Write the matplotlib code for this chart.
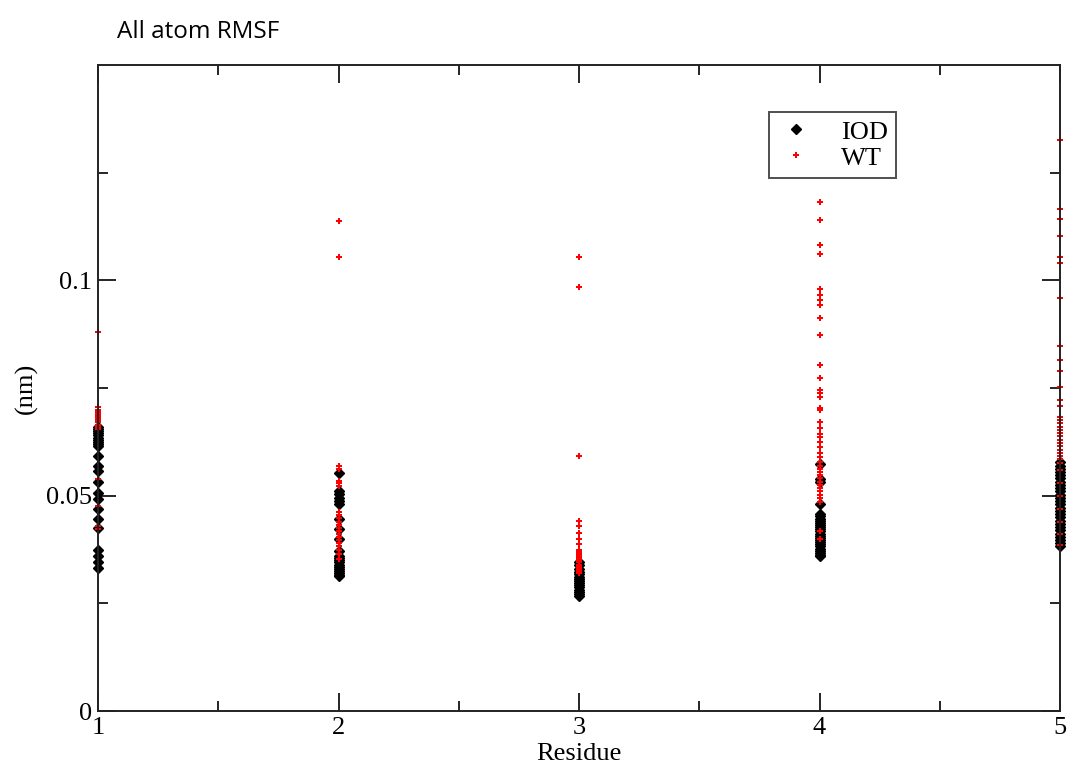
import matplotlib.pyplot as plt

# RMSF values per residue
residues = [1, 2, 3, 4, 5]

iod_1 = [0.0660, 0.0655, 0.0650, 0.0645, 0.0640, 0.0635, 0.0630, 0.0625, 0.0620, 0.0615,
         0.0593, 0.0570, 0.0558, 0.0531, 0.0507, 0.0492, 0.0469, 0.0445, 0.0426,
         0.0375, 0.0359, 0.0345, 0.0333]
wt_1 = [0.0881, 0.0706, 0.0700, 0.0695, 0.0690, 0.0685, 0.0680, 0.0675, 0.0670, 0.0665,
        0.0660, 0.0655, 0.0538, 0.0476, 0.0430, 0.0422]

iod_2 = [0.0552, 0.0511, 0.0505, 0.0495, 0.0488, 0.0480, 0.0445, 0.0422, 0.0399, 0.0371,
         0.0360, 0.0355, 0.0350, 0.0345, 0.0340, 0.0335, 0.0330, 0.0325, 0.0320, 0.0316, 0.0313]
wt_2 = [0.1138, 0.1054, 0.0570, 0.0562, 0.0535, 0.0529, 0.0523, 0.0461, 0.0455, 0.0448,
        0.0440, 0.0432, 0.0425, 0.0418, 0.0410, 0.0403, 0.0396, 0.0390, 0.0382, 0.0375,
        0.0365, 0.0352]

iod_3 = [0.0345, 0.0338, 0.0330, 0.0322, 0.0317, 0.0312, 0.0307, 0.0302, 0.0297, 0.0292,
         0.0287, 0.0282, 0.0277, 0.0272, 0.0267]
wt_3 = [0.1054, 0.0984, 0.0591, 0.0441, 0.0430, 0.0414, 0.0399, 0.0387, 0.0375, 0.0370,
        0.0365, 0.0360, 0.0355, 0.0350, 0.0345, 0.0340, 0.0335, 0.0330, 0.0326, 0.0321]

iod_4 = [0.0573, 0.0538, 0.0531, 0.0480, 0.0457, 0.0452, 0.0447, 0.0442, 0.0437, 0.0432,
         0.0427, 0.0422, 0.0417, 0.0412, 0.0407, 0.0402, 0.0397, 0.0392, 0.0387, 0.0382,
         0.0377, 0.0372, 0.0367, 0.0363, 0.0360]
wt_4 = [0.1182, 0.1139, 0.1082, 0.1061, 0.0979, 0.0967, 0.0954, 0.0942, 0.0913, 0.0872,
        0.0803, 0.0774, 0.0746, 0.0739, 0.0729, 0.0704, 0.0698, 0.0672, 0.0657, 0.0643,
        0.0636, 0.0624, 0.0612, 0.0600, 0.0589, 0.0578, 0.0570, 0.0562, 0.0555, 0.0548,
        0.0540, 0.0532, 0.0525, 0.0518, 0.0510, 0.0502, 0.0495, 0.0485, 0.0418, 0.0400]

iod_5 = [0.0578, 0.0570, 0.0562, 0.0555, 0.0548, 0.0540, 0.0532, 0.0525, 0.0518, 0.0510,
         0.0502, 0.0495, 0.0488, 0.0480, 0.0472, 0.0465, 0.0458, 0.0450, 0.0442, 0.0435,
         0.0428, 0.0420, 0.0412, 0.0405, 0.0398, 0.0390, 0.0383]
wt_5 = [0.1325, 0.1166, 0.1142, 0.1103, 0.1055, 0.1040, 0.0959, 0.0847, 0.0816, 0.0789,
        0.0752, 0.0721, 0.0709, 0.0682, 0.0675, 0.0668, 0.0660, 0.0652, 0.0645, 0.0638,
        0.0630, 0.0622, 0.0615, 0.0607, 0.0600, 0.0592, 0.0585, 0.0577, 0.0560, 0.0530,
        0.0500, 0.0470, 0.0440, 0.0410, 0.0385]

iod = [iod_1, iod_2, iod_3, iod_4, iod_5]
wt = [wt_1, wt_2, wt_3, wt_4, wt_5]

serif = 'Liberation Serif'

fig = plt.figure(figsize=(10.68, 7.72), dpi=100)
ax = fig.add_axes([0.0918, 0.079, 0.9007, 0.8368])

for i, r in enumerate(residues):
    ax.plot([r] * len(iod[i]), iod[i], linestyle='none', marker='D', ms=5.0,
            color='black', clip_on=False, label='IOD' if i == 0 else None)
for i, r in enumerate(residues):
    ax.plot([r] * len(wt[i]), wt[i], linestyle='none', marker='P', ms=4.2,
            color='red', mew=0, clip_on=False, label='WT' if i == 0 else None)

ax.set_xlim(1, 5)
ax.set_ylim(0, 0.15)
ax.set_xticks([1, 2, 3, 4, 5])
ax.set_xticks([1.5, 2.5, 3.5, 4.5], minor=True)
ax.set_yticks([0, 0.05, 0.1])
ax.set_yticklabels(['0', '0.05', '0.1'])
ax.set_yticks([0.025, 0.075, 0.125], minor=True)
ax.tick_params(which='both', direction='in', top=True, right=True, width=1.2,
               labelsize=19, pad=4)
ax.tick_params(which='major', length=13)
ax.tick_params(which='minor', length=7)
for lab in ax.get_xticklabels() + ax.get_yticklabels():
    lab.set_fontfamily(serif)
for s in ax.spines.values():
    s.set_linewidth(1.4)
    s.set_color('#222222')

ax.set_xlabel('Residue', fontfamily=serif, fontsize=19, labelpad=3)
ax.set_ylabel('(nm)', fontfamily=serif, fontsize=19, labelpad=6)

leg = ax.legend(loc='upper left', bbox_to_anchor=(0.698, 0.927), frameon=True,
                fancybox=False, edgecolor='#222222', prop={'family': serif, 'size': 19},
                handletextpad=1.0, borderpad=0.3, labelspacing=0.1, markerscale=1.0,
                handlelength=1.4, borderaxespad=0)
leg.get_frame().set_linewidth(1.4)

fig.text(0.11, 0.958, 'All atom RMSF', fontfamily='Open Sans', fontsize=17.5, va='center')

fig.savefig('out.png', dpi=100)
